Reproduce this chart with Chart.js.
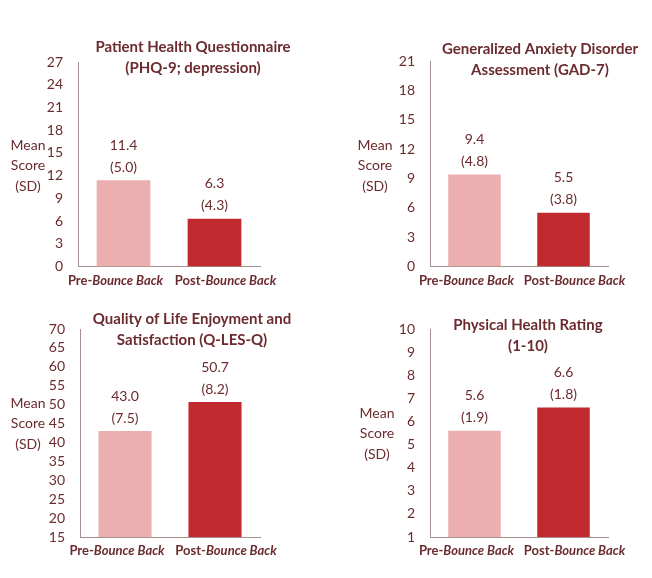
<!DOCTYPE html>
<html>
<head>
<meta charset="utf-8">
<script src="https://cdn.jsdelivr.net/npm/chart.js@4"></script>
<style>
  body { margin: 0; background: #fff; }
  #page { position: relative; width: 652px; height: 578px; }
  .panel { position: absolute; }
</style>
</head>
<body>
<div id="page">
  <div class="panel" style="left:0;top:0"><canvas id="phq" width="326" height="290"></canvas></div>
  <div class="panel" style="left:326px;top:0"><canvas id="gad" width="326" height="290"></canvas></div>
  <div class="panel" style="left:0;top:290px"><canvas id="qles" width="326" height="288"></canvas></div>
  <div class="panel" style="left:326px;top:290px"><canvas id="phys" width="326" height="288"></canvas></div>
</div>
<script>
// Data
var categories = ["Pre-Bounce Back", "Post-Bounce Back"];

var phqMean = [11.4, 6.3];
var phqSd = [5.0, 4.3];
var gadMean = [9.4, 5.5];
var gadSd = [4.8, 3.8];
var qlesMean = [43.0, 50.7];
var qlesSd = [7.5, 8.2];
var physMean = [5.6, 6.6];
var physSd = [1.9, 1.8];

var yTitle = ["Mean", "Score", "(SD)"];

var textColor = "#6b2b2f";
var axisColor = "#a89090";
var barColors = ["#ebafaf", "#c0292e"];
var fontName = "Lato";

// draws titles, value labels, axis title and the mixed-style x labels
var panelText = {
  id: "panelText",
  afterDraw: function (chart) {
    var o = chart.options.plugins.panelText;
    var ctx = chart.ctx;
    var meta = chart.getDatasetMeta(0);
    var values = chart.data.datasets[0].data;
    ctx.save();
    ctx.fillStyle = textColor;
    ctx.textAlign = "center";
    ctx.textBaseline = "middle";

    ctx.font = "bold 15px " + fontName;
    o.title.forEach(function (line, i) {
      ctx.fillText(line, o.titleX, o.titleY + i * 21);
    });

    ctx.font = "14px " + fontName;
    yTitle.forEach(function (line, i) {
      ctx.fillText(line, o.yTitleX, o.yTitleY + i * 20.5);
    });

    meta.data.forEach(function (bar, i) {
      ctx.fillText(values[i].toFixed(1), bar.x, bar.y - 35);
      ctx.fillText("(" + o.sd[i].toFixed(1) + ")", bar.x, bar.y - 13);
    });

    var xScale = chart.scales.x;
    ctx.textAlign = "left";
    chart.data.labels.forEach(function (lab, i) {
      var cut = lab.indexOf("-") + 1;
      var a = lab.slice(0, cut);
      var b = lab.slice(cut);
      ctx.font = "bold 13px " + fontName;
      var wa = ctx.measureText(a).width;
      ctx.font = "italic bold 13px " + fontName;
      var wb = ctx.measureText(b).width;
      var x0 = xScale.getPixelForTick(i) + o.labelShift[i] - (wa + wb) / 2;
      var y = chart.chartArea.bottom + 14;
      ctx.font = "bold 13px " + fontName;
      ctx.fillText(a, x0, y);
      ctx.font = "italic bold 13px " + fontName;
      ctx.fillText(b, x0 + wa, y);
    });
    ctx.restore();
  }
};

function makeChart(id, means, sds, min, max, step, box, text) {
  return new Chart(document.getElementById(id), {
    type: "bar",
    data: {
      labels: categories,
      datasets: [{
        data: means,
        backgroundColor: barColors,
        barPercentage: 0.59,
        categoryPercentage: 1
      }]
    },
    options: {
      responsive: false,
      animation: false,
      layout: { padding: { left: 0, right: box.right, top: box.top, bottom: 0 } },
      scales: {
        x: {
          grid: { display: false, drawTicks: false },
          border: { display: true, color: axisColor, width: 1 },
          ticks: { display: false },
          afterFit: function (scale) { scale.height = box.xHeight; }
        },
        y: {
          min: min,
          max: max,
          grid: { display: false, drawTicks: false },
          border: { display: true, color: axisColor, width: 1 },
          ticks: {
            stepSize: step,
            autoSkip: false,
            color: textColor,
            padding: 15,
            font: { family: fontName, size: 14 }
          },
          afterFit: function (scale) { scale.width = box.yWidth; }
        }
      },
      plugins: {
        legend: { display: false },
        tooltip: { enabled: false },
        panelText: {
          title: text.title,
          titleX: text.titleX,
          titleY: text.titleY,
          yTitleX: text.yTitleX,
          yTitleY: text.yTitleY,
          sd: sds,
          labelShift: [-8, 11]
        }
      }
    },
    plugins: [panelText]
  });
}

makeChart("phq", phqMean, phqSd, 0, 27, 3,
  { top: 62, right: 66, yWidth: 78, xHeight: 23 },
  { title: ["Patient Health Questionnaire", "(PHQ-9; depression)"], titleX: 193, titleY: 47, yTitleX: 28, yTitleY: 145 });

makeChart("gad", gadMean, gadSd, 0, 21, 3,
  { top: 61, right: 44, yWidth: 104, xHeight: 23 },
  { title: ["Generalized Anxiety Disorder", "Assessment (GAD-7)"], titleX: 214, titleY: 49, yTitleX: 49, yTitleY: 145 });

makeChart("qles", qlesMean, qlesSd, 15, 70, 5,
  { top: 39, right: 66, yWidth: 80, xHeight: 41 },
  { title: ["Quality of Life Enjoyment and", "Satisfaction (Q-LES-Q)"], titleX: 192, titleY: 29, yTitleX: 28, yTitleY: 113 });

makeChart("phys", physMean, physSd, 1, 10, 1,
  { top: 39, right: 44, yWidth: 104, xHeight: 41 },
  { title: ["Physical Health Rating", "(1-10)"], titleX: 202, titleY: 35, yTitleX: 51, yTitleY: 123 });
</script>
</body>
</html>
